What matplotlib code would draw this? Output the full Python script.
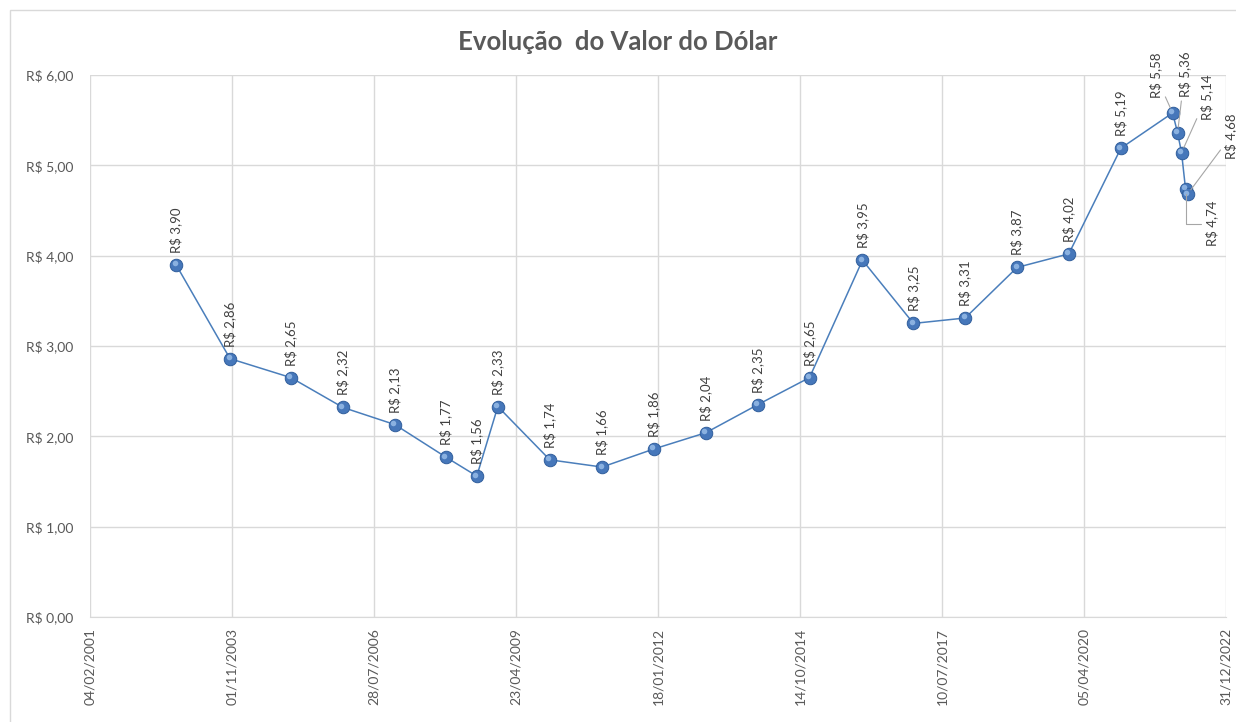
import datetime as dt
import matplotlib
matplotlib.use("Agg")
import matplotlib.pyplot as plt
import matplotlib.dates as mdates
from matplotlib.patches import Rectangle
from matplotlib.ticker import FuncFormatter
from matplotlib.transforms import offset_copy

# data
datas = ["2002-10-03", "2003-10-18", "2004-12-20", "2005-12-21", "2006-12-22",
         "2007-12-16", "2008-07-21", "2008-12-16", "2009-12-17", "2010-12-20",
         "2011-12-20", "2012-12-20", "2013-12-20", "2014-12-20", "2015-12-28",
         "2016-12-21", "2017-12-20", "2018-12-21", "2019-12-20", "2020-12-21",
         "2021-12-20", "2022-01-24", "2022-02-21", "2022-03-21", "2022-04-04"]
valores = [3.90, 2.86, 2.65, 2.32, 2.13, 1.77, 1.56, 2.33, 1.74, 1.66,
           1.86, 2.04, 2.35, 2.65, 3.95, 3.25, 3.31, 3.87, 4.02, 5.19,
           5.58, 5.36, 5.14, 4.74, 4.68]

inicio = dt.date(2001, 2, 4)
fim = dt.date(2022, 12, 31)

x = [dt.datetime.strptime(d, "%Y-%m-%d") for d in datas]

def brl(v):
    return "R$ " + f"{v:.2f}".replace(".", ",")

plt.rcParams['font.family'] = ['Lato', 'DejaVu Sans']

fig = plt.figure(figsize=(12.36, 7.22), dpi=100)
ax = fig.add_axes([90 / 1236, 105 / 722, 1136 / 1236, 542 / 722])

cinza_grade = "#D9D9D9"
cinza_txt = "#595959"
azul = "#4A7EBB"

ax.plot(x, valores, color=azul, lw=1.1, marker="o", ms=9,
        mfc="#4677BA", mec="#305E9C", mew=0.7, zorder=3)
# light spot up-left on each marker, like the shaded spheres
brilho = offset_copy(ax.transData, fig=fig, x=-1.5, y=1.5, units="dots")
ax.plot(x, valores, ls="none", marker="o", ms=4, mfc="#9CC0EA", mec="none",
        alpha=0.8, transform=brilho, zorder=4)

# label offsets in pixels for the crowded points at the end
especiais = {
    20: ((-17, 15), "bottom", "arc3"),
    21: ((7, 36), "bottom", "arc3"),
    22: ((25, 33), "bottom", "arc3"),
    23: ((26, -12), "top", "angle,angleA=0,angleB=90,rad=0"),
    24: ((43, 35), "bottom", "arc3"),
}

for i, (xi, v) in enumerate(zip(x, valores)):
    if i in especiais:
        off, va, con = especiais[i]
        ax.annotate(brl(v), (xi, v), xytext=off, textcoords="offset pixels",
                    rotation=90, ha="center", va=va, fontsize=9.5, color="#404040",
                    arrowprops=dict(arrowstyle="-", color="#A6A6A6", lw=0.8,
                                    shrinkA=1, shrinkB=4, connectionstyle=con),
                    zorder=5)
    else:
        ax.annotate(brl(v), (xi, v), xytext=(0, 12), textcoords="offset pixels",
                    rotation=90, ha="center", va="bottom", fontsize=9.5,
                    color="#404040", zorder=5)

ticks = [inicio + dt.timedelta(days=1000 * k) for k in range(9)]
ax.set_xlim(inicio, fim)
ax.set_xticks(ticks)
ax.xaxis.set_major_formatter(mdates.DateFormatter("%d/%m/%Y"))
plt.setp(ax.get_xticklabels(), rotation=90)

ax.set_ylim(0, 6)
ax.set_yticks(range(0, 7))
ax.yaxis.set_major_formatter(FuncFormatter(lambda v, p: "R$ " + f"{v:.2f}".replace(".", ",")))

ax.grid(True, color=cinza_grade, lw=1)
ax.set_axisbelow(True)
for s in ["top", "right", "left"]:
    ax.spines[s].set_visible(False)
ax.spines["bottom"].set_color(cinza_grade)
ax.tick_params(length=0, colors=cinza_txt, labelsize=10)
ax.tick_params(axis="y", pad=12)
ax.tick_params(axis="x", pad=8)

fig.text(0.5, 1 - 42 / 722, "Evolução  do Valor do Dólar", ha="center", va="center",
         fontsize=18.5, fontweight="bold", color=cinza_txt)

fig.patches.append(Rectangle((10 / 1236, -0.01), 1.0, 1 - 10 / 722 + 0.01,
                             transform=fig.transFigure, fill=False,
                             edgecolor=cinza_grade, lw=1))

fig.savefig("out.png", dpi=100)
